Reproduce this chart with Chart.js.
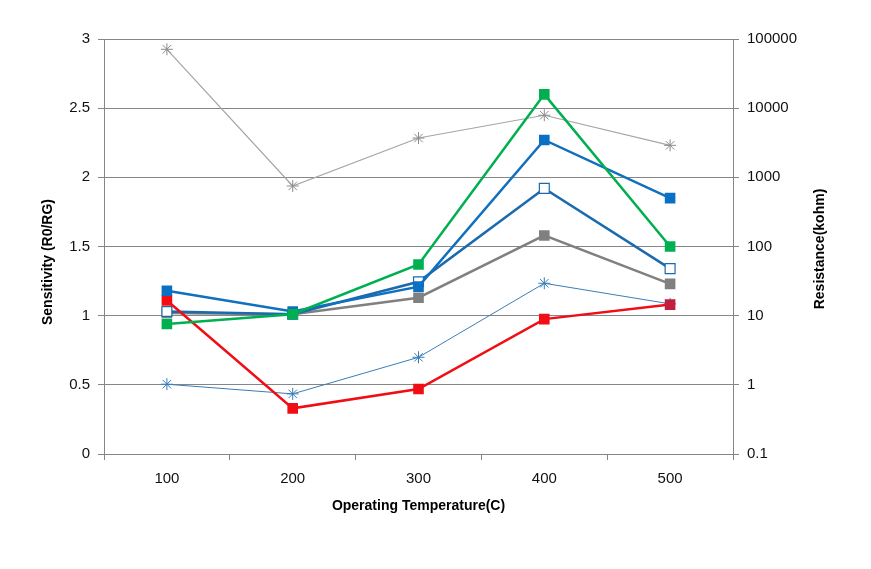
<!DOCTYPE html>
<html lang="en">
<head>
    <meta charset="UTF-8">
    <title>Sensitivity and resistance vs operating temperature</title>
    <script src="https://cdn.jsdelivr.net/npm/chart.js"></script>
    <style>
        body { margin: 0; background: #fff; }
    </style>
</head>
<body>
<canvas id="myChart" width="871" height="569"></canvas>

<script>
    const temperatures = ['100', '200', '300', '400', '500'];

    // sensitivity (left axis)
    const greenSens = [0.94, 1.01, 1.37, 2.60, 1.50];
    const blueSens = [1.18, 1.03, 1.21, 2.27, 1.85];
    const blueOpenSens = [1.03, 1.01, 1.245, 1.92, 1.34];
    const graySens = [1.02, 1.01, 1.13, 1.58, 1.23];
    const redSens = [1.11, 0.33, 0.47, 0.975, 1.08];

    // resistance (right axis, log)
    const grayRes = [71000, 750, 3700, 7900, 2900];
    const blueRes = [1.02, 0.74, 2.5, 29.4, 14.8];

    const sensTicks = [0, 0.5, 1, 1.5, 2, 2.5, 3];
    const resTicks = [0.1, 1, 10, 100, 1000, 10000, 100000];

    const fontFamily = '"Liberation Sans", Arial, sans-serif';
    const axisGray = '#868686';

    // both y titles read bottom-to-top, as in the original
    const sideTitles = {
        id: 'sideTitles',
        afterDraw(chart) {
            const c = chart.ctx;
            const draw = (text, x, y) => {
                c.save();
                c.translate(x, y);
                c.rotate(-Math.PI / 2);
                c.font = 'bold 14px ' + fontFamily;
                c.fillStyle = '#000';
                c.textAlign = 'center';
                c.textBaseline = 'middle';
                c.fillText(text, 0, 0);
                c.restore();
            };
            draw('Sensitivity (R0/RG)', 48, 262);
            draw('Resistance(kohm)', 820, 249);
        }
    };

    const ctx = document.getElementById('myChart').getContext('2d');

    new Chart(ctx, {
        type: 'line',
        data: {
            labels: temperatures,
            datasets: [
                {
                    label: 'green',
                    data: greenSens,
                    yAxisID: 'y',
                    borderColor: '#00B050',
                    backgroundColor: '#00B050',
                    borderWidth: 2.5,
                    pointStyle: 'rect',
                    pointRadius: 7.5,
                    pointBorderWidth: 0
                },
                {
                    label: 'blue',
                    data: blueSens,
                    yAxisID: 'y',
                    borderColor: '#1170BE',
                    backgroundColor: '#0A70C4',
                    borderWidth: 2.5,
                    pointStyle: 'rect',
                    pointRadius: 7.5,
                    pointBorderWidth: 0
                },
                {
                    label: 'red',
                    data: redSens,
                    yAxisID: 'y',
                    borderColor: '#F00E14',
                    backgroundColor: ['#F00E14', '#F00E14', '#F00E14', '#F00E14', '#C0203E'],
                    borderWidth: 2.5,
                    pointStyle: 'rect',
                    pointRadius: 7.5,
                    pointBorderWidth: 0
                },
                {
                    label: 'blue open',
                    data: blueOpenSens,
                    yAxisID: 'y',
                    borderColor: '#1A6AAE',
                    backgroundColor: '#ffffff',
                    borderWidth: 2.5,
                    pointStyle: 'rect',
                    pointRadius: 7,
                    pointBorderWidth: 1.2
                },
                {
                    label: 'gray',
                    data: graySens,
                    yAxisID: 'y',
                    borderColor: '#808080',
                    backgroundColor: '#808080',
                    borderWidth: 2.5,
                    pointStyle: 'rect',
                    pointRadius: 7.5,
                    pointBorderWidth: 0
                },
                {
                    label: 'blue res',
                    data: blueRes,
                    yAxisID: 'y2',
                    borderColor: '#3A7DB8',
                    backgroundColor: '#3A7DB8',
                    borderWidth: 1,
                    pointStyle: 'star',
                    pointRadius: 6,
                    pointBorderWidth: 1
                },
                {
                    label: 'gray res',
                    data: grayRes,
                    yAxisID: 'y2',
                    borderColor: '#A5A5A5',
                    backgroundColor: '#8C8C8C',
                    borderWidth: 1.2,
                    pointStyle: 'star',
                    pointRadius: 6,
                    pointBorderColor: '#8C8C8C',
                    pointBorderWidth: 1
                }
            ]
        },
        options: {
            responsive: false,
            animation: false,
            layout: { padding: { top: 39, left: 0, right: 0, bottom: 0 } },
            plugins: {
                legend: { display: false },
                tooltip: { enabled: false }
            },
            scales: {
                x: {
                    offset: true,
                    grid: {
                        offset: true,
                        drawOnChartArea: false,
                        color: axisGray,
                        tickLength: 6
                    },
                    border: { color: axisGray },
                    ticks: {
                        color: '#111',
                        padding: 10,
                        font: { family: fontFamily, size: 15 }
                    },
                    title: {
                        display: true,
                        text: 'Operating Temperature(C)',
                        color: '#000',
                        font: { family: fontFamily, size: 14, weight: 'bold' },
                        padding: { top: 4, bottom: 54 }
                    },
                    afterFit(scale) { scale.height = 115; }
                },
                y: {
                    position: 'left',
                    min: 0,
                    max: 3,
                    afterBuildTicks(scale) {
                        scale.ticks = sensTicks.map(v => ({ value: v }));
                    },
                    grid: { color: axisGray, tickLength: 6 },
                    border: { color: axisGray },
                    ticks: {
                        color: '#111',
                        padding: 8,
                        font: { family: fontFamily, size: 15 },
                        callback: v => String(v)
                    },
                    afterFit(scale) { scale.width = 104; }
                },
                y2: {
                    type: 'logarithmic',
                    position: 'right',
                    min: 0.1,
                    max: 100000,
                    afterBuildTicks(scale) {
                        scale.ticks = resTicks.map(v => ({ value: v }));
                    },
                    grid: { drawOnChartArea: false, color: axisGray, tickLength: 6 },
                    border: { color: axisGray },
                    ticks: {
                        color: '#111',
                        padding: 8,
                        font: { family: fontFamily, size: 15 },
                        callback: v => String(v)
                    },
                    afterFit(scale) { scale.width = 138; }
                }
            }
        },
        plugins: [sideTitles]
    });
</script>
</body>
</html>
